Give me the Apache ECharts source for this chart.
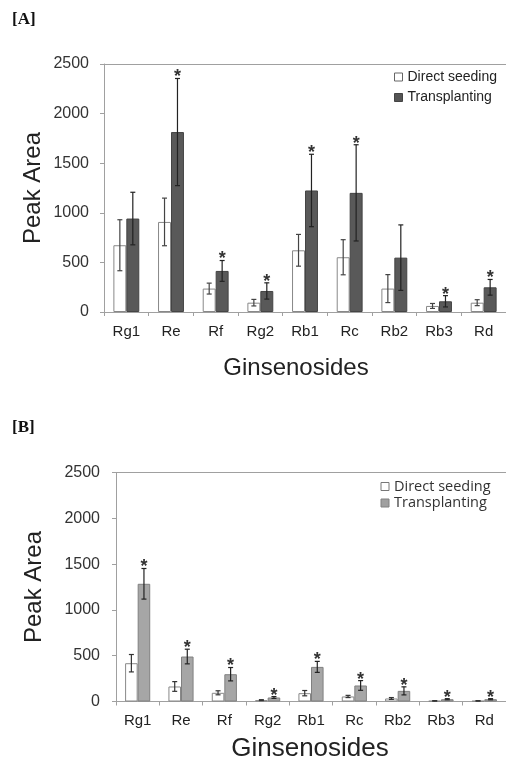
<!DOCTYPE html>
<html>
<head>
<meta charset="utf-8">
<script src="https://cdn.jsdelivr.net/npm/echarts@6/dist/echarts.min.js"></script>
<style>
html,body{margin:0;padding:0;background:#fff;overflow:hidden;}
#chart{width:506px;height:761px;}
</style>
</head>
<body>
<div id="chart"></div>
<script>
// ---- data ----
const categories = ['Rg1','Re','Rf','Rg2','Rb1','Rc','Rb2','Rb3','Rd'];
const yMin = 0, yMax = 2500, yStep = 500;

// Panel A
const aDirect   = [673, 908, 236, 94, 622, 552, 236, 61, 94];
const aDirectSd = [257, 240, 55, 33, 160, 177, 141, 25, 30];
const aTrans    = [942, 1814, 414, 212, 1225, 1201, 548, 108, 249];
const aTransSd  = [265, 540, 105, 82, 365, 485, 330, 57, 79];
const aStar     = [0, 1, 1, 1, 1, 1, 0, 1, 1];

// Panel B
const bDirect   = [418, 164, 95, 15, 91, 55, 33, 7, 7];
const bDirectSd = [95, 53, 22, 5, 29, 12, 10, 3, 3];
const bTrans    = [1285, 491, 298, 44, 378, 175, 116, 25, 25];
const bTransSd  = [167, 80, 73, 10, 60, 53, 44, 6, 6];
const bStar     = [1, 1, 1, 1, 1, 1, 1, 1, 1];

// ---- helpers ----
const BAR_FRAC = 0.29;
function errData(vals, sds, stars){
  return vals.map((v,i)=>[i, v - sds[i], v + sds[i], stars ? stars[i] : 0]);
}
function errRender(side, color){
  return function(params, api){
    const cat = api.value(0);
    const lo = api.coord([cat, api.value(1)]);
    const hi = api.coord([cat, api.value(2)]);
    const bw = api.size([1,0])[0];
    const x = lo[0] + side * bw * BAR_FRAC / 2;
    const cap = 2.5;
    const st = {stroke: color, lineWidth: 1.2};
    const children = [
      {type:'line', shape:{x1:x,y1:lo[1],x2:x,y2:hi[1]}, style:st},
      {type:'line', shape:{x1:x-cap,y1:lo[1],x2:x+cap,y2:lo[1]}, style:st},
      {type:'line', shape:{x1:x-cap,y1:hi[1],x2:x+cap,y2:hi[1]}, style:st}
    ];
    if (api.value(3)) {
      children.push({type:'text', style:{text:'*', x:x, y:hi[1]-1, align:'center', verticalAlign:'middle', font:'bold 18px "Liberation Sans", Arial', fill:'#333'}});
    }
    return {type:'group', children};
  };
}

const axisLabelFont = '"Liberation Sans", Arial, sans-serif';

function xAxisCfg(gi){
  return {
    type:'category', gridIndex:gi, data:categories,
    axisLine:{lineStyle:{color:'#a0a0a0', width:1}},
    axisTick:{show:true, length:4, lineStyle:{color:'#a0a0a0'}},
    axisLabel:{color:'#222', fontSize:15, fontFamily:axisLabelFont, margin:12, interval:0}
  };
}
function topAxisCfg(gi){
  return {
    type:'category', gridIndex:gi, data:categories, position:'top',
    axisLine:{show:true, lineStyle:{color:'#a0a0a0', width:1}},
    axisTick:{show:false}, axisLabel:{show:false}, splitLine:{show:false}
  };
}
function yAxisCfg(gi, margin){
  return {
    type:'value', gridIndex:gi, min:yMin, max:yMax, interval:yStep,
    axisLine:{show:true, lineStyle:{color:'#a0a0a0', width:1}},
    axisTick:{show:true, length:4, lineStyle:{color:'#a0a0a0'}},
    splitLine:{show:false},
    axisLabel:{color:'#333', fontSize:16, fontFamily:axisLabelFont, margin:margin, formatter: v => String(v)}
  };
}

const chart = echarts.init(document.getElementById('chart'), null, {renderer:'canvas'});
const option = {
  backgroundColor:'#fff',
  animation:false,
  grid:[
    {left:104, top:64, width:405, height:248},
    {left:116, top:472.5, width:394, height:229}
  ],
  xAxis:[xAxisCfg(0), xAxisCfg(1), topAxisCfg(0), topAxisCfg(1)],
  yAxis:[yAxisCfg(0, 15), yAxisCfg(1, 16)],
  legend:[
    {
      orient:'vertical', left:389, top:65, itemWidth:8, itemHeight:8, itemGap:6.5, itemTextGap:4,
      textStyle:{fontSize:14, color:'#222', fontFamily:axisLabelFont},
      data:[
        {name:'Direct seeding', icon:'rect', itemStyle:{color:'#fff', borderColor:'#666', borderWidth:1}},
        {name:'Transplanting', icon:'rect', itemStyle:{color:'#555', borderColor:'#444', borderWidth:1}}
      ]
    },
    {
      orient:'vertical', left:375.5, top:474, itemWidth:8, itemHeight:8, itemGap:1.5, itemTextGap:6,
      textStyle:{fontSize:14.5, color:'#333', fontFamily:'"Open Sans", sans-serif'},
      formatter: n => n.trim(),
      data:[
        {name:'Direct seeding ', icon:'rect', itemStyle:{color:'#fff', borderColor:'#777', borderWidth:1}},
        {name:'Transplanting ', icon:'rect', itemStyle:{color:'#a0a0a0', borderColor:'#808080', borderWidth:1}}
      ]
    }
  ],
  graphic:[
    {type:'text', left:12, top:11, style:{text:'[A]', font:'bold 17px "Liberation Serif", serif', fill:'#111'}},
    {type:'text', left:12, top:419, style:{text:'[B]', font:'bold 17px "Liberation Serif", serif', fill:'#111'}},
    {type:'text', x:33, y:188, rotation:Math.PI/2, style:{text:'Peak Area', font:'24px "Liberation Sans", Arial', fill:'#222', align:'center', verticalAlign:'middle'}},
    {type:'text', x:296, y:368, style:{text:'Ginsenosides', font:'24px "Liberation Sans", Arial', fill:'#222', align:'center', verticalAlign:'middle'}},
    {type:'text', x:34, y:587, rotation:Math.PI/2, style:{text:'Peak Area', font:'24px "Liberation Sans", Arial', fill:'#222', align:'center', verticalAlign:'middle'}},
    {type:'text', x:310, y:749, style:{text:'Ginsenosides', font:'26px "Liberation Sans", Arial', fill:'#222', align:'center', verticalAlign:'middle'}}
  ],
  series:[
    {name:'Direct seeding', type:'bar', xAxisIndex:0, yAxisIndex:0, data:aDirect, barWidth:(BAR_FRAC*100)+'%', barGap:'0%',
      itemStyle:{color:'#fff', borderColor:'#888', borderWidth:1}},
    {name:'Transplanting', type:'bar', xAxisIndex:0, yAxisIndex:0, data:aTrans, barWidth:(BAR_FRAC*100)+'%', barGap:'0%',
      itemStyle:{color:'#595959', borderColor:'#444', borderWidth:1}},
    {name:'errA1', type:'custom', xAxisIndex:0, yAxisIndex:0, data:errData(aDirect, aDirectSd), renderItem:errRender(-1,'#444'), encode:{x:0, y:[1,2]}, z:5, silent:true},
    {name:'errA2', type:'custom', xAxisIndex:0, yAxisIndex:0, data:errData(aTrans, aTransSd, aStar), renderItem:errRender(1,'#222'), encode:{x:0, y:[1,2]}, z:5, silent:true},

    {name:'Direct seeding ', type:'bar', xAxisIndex:1, yAxisIndex:1, data:bDirect, barWidth:(BAR_FRAC*100)+'%', barGap:'0%',
      itemStyle:{color:'#fff', borderColor:'#888', borderWidth:1}},
    {name:'Transplanting ', type:'bar', xAxisIndex:1, yAxisIndex:1, data:bTrans, barWidth:(BAR_FRAC*100)+'%', barGap:'0%',
      itemStyle:{color:'#a6a6a6', borderColor:'#808080', borderWidth:1}},
    {name:'errB1', type:'custom', xAxisIndex:1, yAxisIndex:1, data:errData(bDirect, bDirectSd), renderItem:errRender(-1,'#333'), encode:{x:0, y:[1,2]}, z:5, silent:true},
    {name:'errB2', type:'custom', xAxisIndex:1, yAxisIndex:1, data:errData(bTrans, bTransSd, bStar), renderItem:errRender(1,'#222'), encode:{x:0, y:[1,2]}, z:5, silent:true}
  ]
};
chart.setOption(option);
</script>
</body>
</html>
